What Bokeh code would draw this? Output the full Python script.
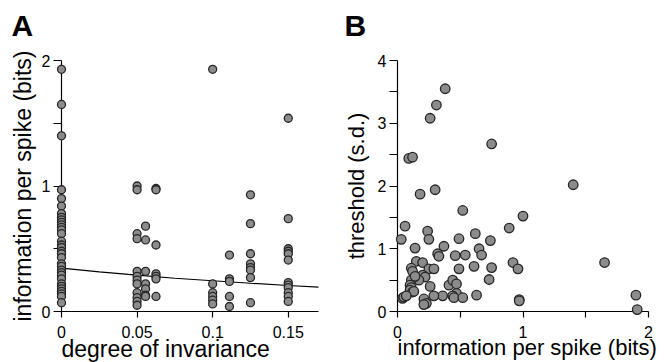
from bokeh.plotting import figure
from bokeh.layouts import row
from bokeh.models import FixedTicker, Range1d
from bokeh.core.properties import value
from bokeh.embed import file_html
from bokeh.resources import INLINE

# ---------------- Panel A data ----------------
info_inv_0 = [1.93, 1.65, 1.40, 0.97, 0.90, 0.84, 0.78, 0.75, 0.73, 0.71, 0.69, 0.67,
              0.65, 0.62, 0.56, 0.53, 0.51, 0.48, 0.46, 0.43, 0.38, 0.36, 0.33, 0.31,
              0.29, 0.26, 0.22, 0.20, 0.18, 0.16, 0.14, 0.12, 0.07]
info_inv_050 = [1.00, 0.97, 0.62, 0.58, 0.32, 0.28, 0.25, 0.22, 0.15, 0.11, 0.08, 0.05]
info_inv_056 = [0.68, 0.57, 0.32, 0.22, 0.18, 0.13, 0.12]
info_inv_063 = [0.98, 0.97, 0.53, 0.30, 0.28, 0.26, 0.12]
info_inv_100 = [1.93, 0.22, 0.15, 0.12, 0.09, 0.06]
info_inv_111 = [0.45, 0.26, 0.24, 0.12, 0.04]
info_inv_125 = [0.93, 0.70, 0.46, 0.38, 0.35, 0.33, 0.27, 0.07]
info_inv_150 = [1.54, 0.74, 0.50, 0.48, 0.46, 0.41, 0.23, 0.21, 0.19, 0.15, 0.12, 0.08]
invariance_levels = [0.0, 0.05, 0.0556, 0.0625, 0.1, 0.1111, 0.125, 0.15]
info_columns = [info_inv_0, info_inv_050, info_inv_056, info_inv_063,
                info_inv_100, info_inv_111, info_inv_125, info_inv_150]

fit_x = [0.0, 0.025, 0.05, 0.075, 0.1, 0.125, 0.15, 0.17]
fit_y = [0.345, 0.315, 0.29, 0.265, 0.245, 0.225, 0.207, 0.195]

a_x_ticks = [0, 0.05, 0.1, 0.15]
a_x_labels = ["0", "0.05", "0.1", "0.15"]
a_y_ticks = [0, 0.5, 1, 1.5, 2]
a_y_labels = ["0", "", "1", "", "2"]

# ---------------- Panel B data ----------------
info_b = [0.38, 0.31, 0.26, 0.75, 0.09, 0.12, 0.30, 0.18, 1.40, 0.52, 1.00, 0.89,
          0.06, 0.03, 0.24, 0.25, 0.14, 0.37, 0.49, 0.62, 0.74, 0.65, 0.67, 0.54,
          0.46, 0.32, 0.33, 0.15, 0.20, 0.11, 0.12, 0.25, 0.29, 0.49, 0.61, 0.75,
          0.92, 0.96, 1.65, 0.73, 0.20, 0.22, 0.17, 0.11, 0.10, 0.11, 0.10, 0.12,
          0.13, 0.26, 0.41, 0.44, 0.47, 0.47, 0.44, 0.45, 0.52, 0.63, 0.36, 0.29,
          0.21, 0.23, 0.21, 0.04, 0.05, 0.07, 0.97, 0.97, 1.90, 1.91, 0.14]
thresh_b = [3.55, 3.29, 3.08, 2.67, 2.44, 2.46, 1.94, 1.87, 2.02, 1.61, 1.52, 1.33,
            1.36, 1.15, 1.28, 1.15, 1.01, 1.04, 1.16, 1.24, 1.13, 1.00, 0.90, 0.90,
            0.89, 0.92, 0.88, 0.80, 0.78, 0.69, 0.64, 0.68, 0.68, 0.68, 0.72, 0.70,
            0.78, 0.68, 0.78, 0.51, 0.58, 0.55, 0.50, 0.50, 0.42, 0.38, 0.34, 0.31,
            0.32, 0.40, 0.42, 0.50, 0.44, 0.29, 0.25, 0.22, 0.22, 0.26, 0.25, 0.25,
            0.20, 0.13, 0.11, 0.21, 0.23, 0.25, 0.19, 0.17, 0.26, 0.03, 0.56]

b_x_ticks = [0, 0.5, 1, 1.5, 2]
b_x_labels = ["0", "", "1", "", "2"]
b_y_ticks = [0, 0.5, 1, 1.5, 2, 2.5, 3, 3.5, 4]
b_y_labels = ["0", "", "1", "", "2", "", "3", "", "4"]

FONT = "Liberation Sans"
FILL = "#8c8c8c"
EDGE = "#262626"


def style_axes(p, xt, xl, yt, yl, label_size):
    p.outline_line_color = None
    p.xgrid.visible = False
    p.ygrid.visible = False
    p.xaxis.ticker = FixedTicker(ticks=xt)
    p.yaxis.ticker = FixedTicker(ticks=yt)
    p.xaxis.major_label_overrides = {float(t): l for t, l in zip(xt, xl)}
    p.yaxis.major_label_overrides = {float(t): l for t, l in zip(yt, yl)}
    for ax in (p.xaxis[0], p.yaxis[0]):
        ax.axis_line_color = "black"
        ax.axis_line_width = 1.2
        ax.major_tick_line_color = "black"
        ax.major_tick_line_width = 1.2
        ax.major_tick_in = 0
        ax.minor_tick_line_color = None
        ax.major_label_text_font = FONT
        ax.major_label_text_font_size = "16px"
        ax.major_label_text_color = "black"
        ax.axis_label_text_font = FONT
        ax.axis_label_text_font_size = label_size
        ax.axis_label_text_font_style = "normal"
        ax.axis_label_text_color = "black"
    p.xaxis.major_tick_out = 6
    p.yaxis.major_tick_out = 8
    p.xaxis.major_label_standoff = 8
    p.yaxis.major_label_standoff = 3


def add_text(p, text, x, y, dx, dy, size, bold=False):
    # text anchored at an axis corner, shifted by screen pixels (dy > 0 is down)
    p.text(x=[x], y=[y], text=[text], x_offset=dx, y_offset=dy,
           text_font=value(FONT), text_font_size=size,
           text_font_style="bold" if bold else "normal",
           text_color="black", text_align="left",
           text_baseline="alphabetic", level="overlay")


# ---------------- Figure A ----------------
pa = figure(width=330, height=362, output_backend="svg", toolbar_location=None,
            x_range=Range1d(0, 0.17), y_range=Range1d(0, 2),
            min_border_left=61, min_border_right=12, min_border_top=57,
            min_border_bottom=51, background_fill_color="white")
style_axes(pa, a_x_ticks, a_x_labels, a_y_ticks, a_y_labels, "23px")
pa.yaxis.axis_label = "information per spike (bits)"
pa.yaxis.axis_label_standoff = 3
add_text(pa, "A", 0, 2, -50, -35, "30px", bold=True)
add_text(pa, "degree of invariance", 0, 0, 0, 37, "23px")

ax_pts, ay_pts = [], []
for lvl, col in zip(invariance_levels, info_columns):
    ax_pts += [lvl] * len(col)
    ay_pts += col

pa.line(fit_x, fit_y, line_color="black", line_width=1.2, level="overlay")
pa.scatter(ax_pts, ay_pts, size=8, fill_color=FILL, line_color=EDGE,
           line_width=1.3, level="overlay")

# ---------------- Figure B ----------------
pb = figure(width=335, height=362, output_backend="svg", toolbar_location=None,
            x_range=Range1d(0, 2), y_range=Range1d(0, 4),
            min_border_left=67, min_border_right=17, min_border_top=60,
            min_border_bottom=50, background_fill_color="white")
style_axes(pb, b_x_ticks, b_x_labels, b_y_ticks, b_y_labels, "22px")
pb.yaxis.axis_label = "threshold (s.d.)"
pb.yaxis.axis_label_standoff = 6
add_text(pb, "B", 0, 4, -53, -35, "30px", bold=True)
add_text(pb, "information per spike (bits)", 0, 0, 0, 36, "22px")

pb.scatter(info_b, thresh_b, size=9.5, fill_color=FILL, line_color=EDGE,
           line_width=1.3, level="overlay")

layout = row(pa, pb)
open("out.html", "w").write(file_html(layout, INLINE))
